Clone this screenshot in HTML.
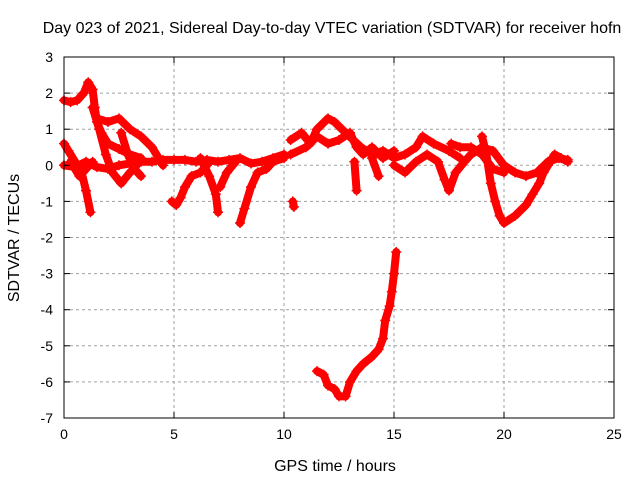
<!DOCTYPE html>
<html><head><meta charset="utf-8"><style>
body{margin:0;background:#fff;}
svg{display:block;font-family:"Liberation Sans",sans-serif;}
</style></head><body>
<svg id="chart" width="640" height="480" viewBox="0 0 640 480">
<rect width="640" height="480" fill="#fff"/>
<g id="grid"></g>
<g id="series"></g>
<rect x="64" y="57" width="550" height="361" fill="none" stroke="#000" stroke-width="1"/>
<g id="ticks"></g>
<text x="332" y="33" font-size="16" text-anchor="middle">Day 023 of 2021, Sidereal Day-to-day VTEC variation (SDTVAR) for receiver hofn</text>
<text x="335" y="471" font-size="16" text-anchor="middle">GPS time / hours</text>
<text x="19" y="238" font-size="16" text-anchor="middle" transform="rotate(-90 19 238)">SDTVAR / TECUs</text>
</svg>
<script>
const xTicks=[0,5,10,15,20,25];
const yTicks=[-7,-6,-5,-4,-3,-2,-1,0,1,2,3];
const trackA=[[0,1.8],[0.3,1.75],[0.6,1.8],[0.9,2.0],[1.1,2.3],[1.3,2.1],[1.4,1.6],[1.5,1.2],[1.7,0.9],[2.0,0.6],[2.5,0.45],[3,0.3],[3.5,0.2]];
const trackB=[[0,0.6],[0.2,0.4],[0.5,0.1],[0.8,-0.2],[1.0,-0.7],[1.2,-1.3]];
const trackC=[[0,0],[0.5,-0.05],[1,0.1],[1.5,-0.05],[2,-0.1],[2.5,0],[3,0.05],[3.5,0.1],[4,0.1],[4.5,0.15],[5,0.15],[5.5,0.15],[6,0.1],[6.5,0.15],[7,0.1],[7.5,0.15],[8,0.2],[8.5,0.05],[9,0.1],[9.5,0.2],[10,0.3]];
const trackD=[[1.5,1.3],[2,1.2],[2.5,1.3],[3,1.0],[3.5,0.8],[4,0.5],[4.3,0.2],[4.5,0.0]];
const trackE=[[1.3,1.6],[1.6,1.0],[1.9,0.3],[2.2,-0.2],[2.6,-0.5],[3.0,-0.2],[3.3,0]];
const trackF=[[0.3,0.1],[0.7,-0.3],[1.0,-0.1],[1.3,0.1]];
const trackG=[[2.6,0.9],[2.9,0.3],[3.2,-0.1],[3.5,-0.3]];
const trackH=[[4.9,-1.0],[5.1,-1.1],[5.3,-0.9],[5.5,-0.6],[5.8,-0.3],[6.2,-0.2],[6.5,0]];
const trackI=[[6.2,0.2],[6.6,-0.3],[6.9,-0.8],[7.0,-1.3]];
const trackJ=[[7.1,-0.6],[7.4,-0.2],[7.8,0.1]];
const trackK=[[8.0,-1.6],[8.2,-1.2],[8.5,-0.6],[8.8,-0.2],[9.2,-0.1],[9.5,0.1],[10,0.2]];
const trackL=[[10.4,-1.0],[10.45,-1.15]];
const trackM=[[10.3,0.7],[10.8,0.9],[11.2,0.6],[11.5,1.0],[12,1.3],[12.3,1.2],[12.8,0.9],[13.5,0.5],[14,0.3],[14.5,0.4],[15,0.2],[15.5,0.3],[16,0.5],[16.3,0.8],[16.8,0.6],[17.5,0.4],[18,0.2]];
const trackN=[[10.3,0.3],[11,0.5],[11.5,0.8],[12,0.6],[12.5,0.7],[13,0.9],[13.3,0.5],[13.6,0.3],[14,0.5],[14.5,0.2],[15,0.4]];
const trackO=[[13.2,0.1],[13.3,-0.7]];
const trackP=[[14,0.2],[14.3,-0.3]];
const trackQ=[[15,0],[15.5,-0.2],[16,0.1],[16.5,0.3],[17,0.1],[17.3,-0.4],[17.5,-0.7],[17.8,-0.2],[18.2,0.1],[18.5,0.3],[19,0.5],[19.5,0.4],[20,0.0],[20.5,-0.2],[21,-0.3],[21.5,-0.2],[22,0.1],[22.5,0.2],[22.9,0.15]];
const trackR=[[19,0.8],[19.2,0.3],[19.4,-0.5],[19.6,-1.0],[19.8,-1.4],[20,-1.6],[20.5,-1.4],[21,-1.1],[21.3,-0.8],[21.6,-0.5],[21.8,-0.2],[22,0.0],[22.3,0.3],[22.6,0.2],[22.9,0.1]];
const trackS=[[17.6,0.6],[18.0,0.5],[18.5,0.5],[19,0.3],[19.5,-0.1],[20,-0.2]];
const trackT=[[11.5,-5.7],[11.8,-5.8],[12,-6.1],[12.3,-6.2],[12.5,-6.4],[12.8,-6.4],[13,-6.0],[13.3,-5.7],[13.6,-5.5],[14,-5.3],[14.3,-5.1],[14.5,-4.8],[14.6,-4.3],[14.8,-3.9],[14.9,-3.5],[15,-3.0],[15.1,-2.4]];
const tracks=[trackA,trackB,trackC,trackD,trackE,trackF,trackG,trackH,trackI,trackJ,trackK,trackL,trackM,trackN,trackO,trackP,trackQ,trackR,trackS,trackT];

const NS="http://www.w3.org/2000/svg";
const X0=64,X1=614,Y0=418,Y1=57;
function xs(v){return X0+(v-0)/(25-0)*(X1-X0);}
function ys(v){return Y0-(v+7)/(3+7)*(Y0-Y1);}
function mk(tag,attrs,parent){const e=document.createElementNS(NS,tag);for(const k in attrs)e.setAttribute(k,attrs[k]);parent.appendChild(e);return e;}
const grid=document.getElementById('grid'),ticks=document.getElementById('ticks'),series=document.getElementById('series');
xTicks.forEach(t=>{
  const x=xs(t);
  if(t>0&&t<25){const g=mk('line',{x1:x,x2:x,y1:Y1,y2:Y0,stroke:'#a0a0a0','stroke-dasharray':'3,3'},grid);
  
  }
  mk('line',{x1:x,x2:x,y1:Y0,y2:Y0-6,stroke:'#000'},ticks);
  mk('line',{x1:x,x2:x,y1:Y1,y2:Y1+6,stroke:'#000'},ticks);
  const l=mk('text',{x:x,y:Y0+21,'font-size':14,'text-anchor':'middle'},ticks);
  l.textContent=t;
  
  
});
yTicks.forEach(t=>{
  const y=ys(t);
  if(t>-7&&t<3){const g=mk('line',{x1:X0,x2:X1,y1:y,y2:y,stroke:'#a0a0a0','stroke-dasharray':'3,3'},grid);
  
  }
  mk('line',{x1:X0,x2:X0+6,y1:y,y2:y,stroke:'#000'},ticks);
  mk('line',{x1:X1,x2:X1-6,y1:y,y2:y,stroke:'#000'},ticks);
  const l=mk('text',{x:X0-11,y:y+5,'font-size':14,'text-anchor':'end'},ticks);
  l.textContent=t;
  
  
});
tracks.forEach((tr,i)=>{
  const pts=tr.map(p=>xs(p[0])+','+ys(p[1])).join(' ');
  const pl=mk('polyline',{points:pts,fill:'none',stroke:'#ff0000','stroke-width':8,'stroke-linejoin':'round','stroke-linecap':'round'},series);
  
  
  tr.forEach(p=>{
    const x=xs(p[0]),y=ys(p[1]);
    const m=mk('path',{d:`M${x-5},${y}H${x+5}M${x},${y-5}V${y+5}`,stroke:'#ff0000','stroke-width':1.5},series);
    
    
  });
});
</script>
</body></html>
